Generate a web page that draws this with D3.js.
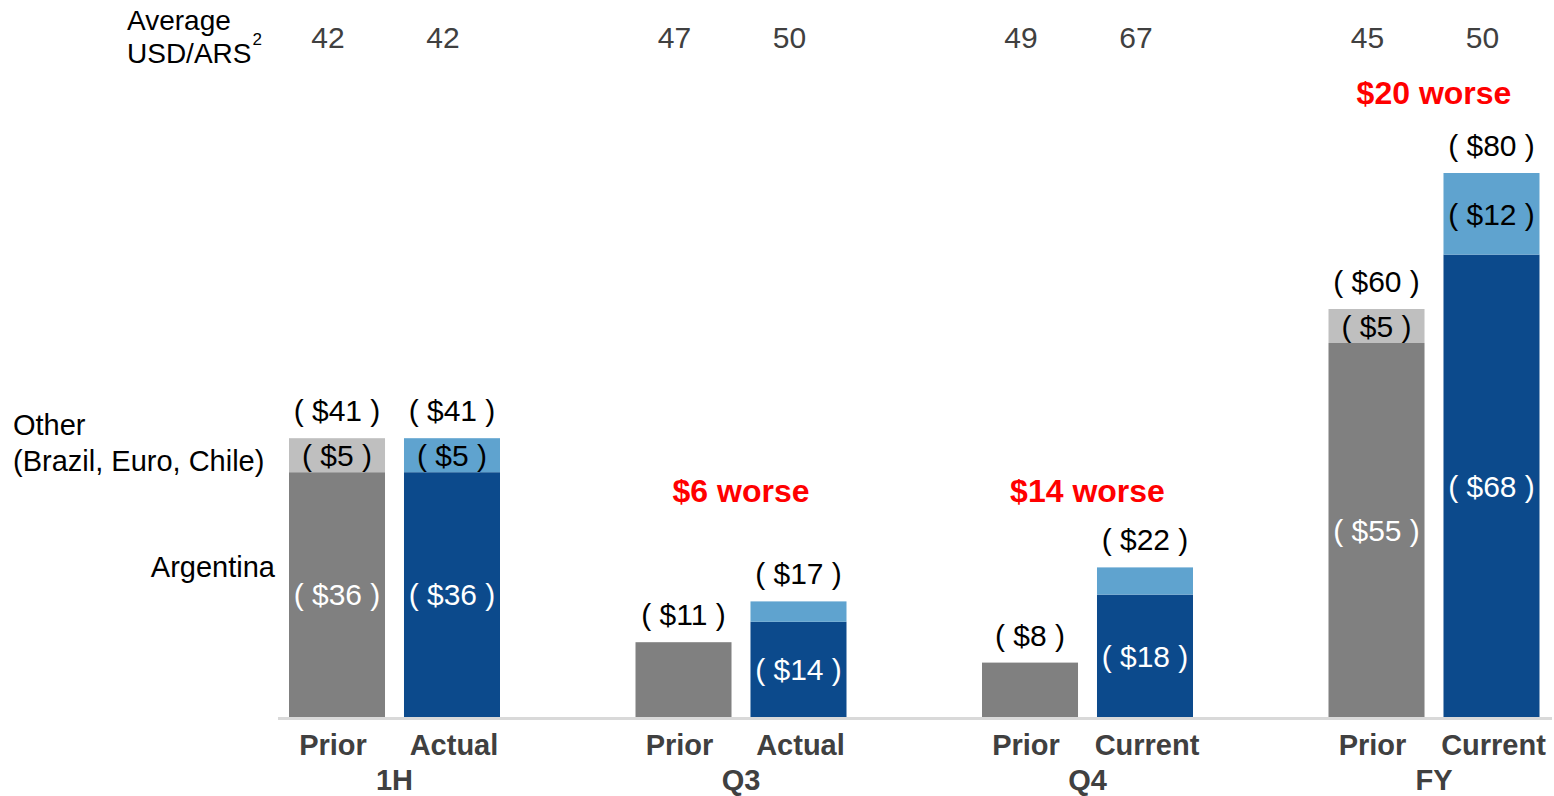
<!DOCTYPE html>
<html>
<head>
<meta charset="utf-8">
<script src="https://cdn.jsdelivr.net/npm/d3@7"></script>
<style>
  body { margin: 0; background: #fff; }
  svg { font-family: "Liberation Sans", Arial, sans-serif; }
</style>
</head>
<body>
<div id="chart"></div>
<script>
const width = 1554, height = 796;

// data
const groups = ["1H", "Q3", "Q4", "FY"];
const seriesNames = [["Prior", "Actual"], ["Prior", "Actual"], ["Prior", "Current"], ["Prior", "Current"]];
const argentina = [[36, 36], [11, 14], [8, 18], [55, 68]];
const other = [[5, 5], [0, 3], [0, 4], [5, 12]];
const totals = [[41, 41], [11, 17], [8, 22], [60, 80]];
const argLabels = [["( $36 )", "( $36 )"], [null, "( $14 )"], [null, "( $18 )"], ["( $55 )", "( $68 )"]];
const otherLabels = [["( $5 )", "( $5 )"], [null, null], [null, null], ["( $5 )", "( $12 )"]];
const fxRates = [[42, 42], [47, 50], [49, 67], [45, 50]];
const worseLabels = ["", "$6 worse", "$14 worse", "$20 worse"];

const colors = {
  priorArg: "#808080", priorOther: "#bfbfbf",
  curArg: "#0c4a8c", curOther: "#5fa3cf"
};

let svg = d3.select("#chart")
    .append("svg")
    .attr("width", width)
    .attr("height", height);

let x0 = d3.scalePoint()
    .domain(groups)
    .range([394.5, 1434]);

let x1 = d3.scaleBand()
    .domain([0, 1])
    .range([-105.5, 105.5])
    .paddingInner(0.165);

let y = d3.scaleLinear()
    .domain([0, 80])
    .range([717, 173]);

// flatten into bar records
let bars = [];
groups.forEach((g, gi) => {
    [0, 1].forEach(si => {
        bars.push({
            group: g, gi: gi, si: si,
            name: seriesNames[gi][si],
            arg: argentina[gi][si], other: other[gi][si], total: totals[gi][si],
            argLabel: argLabels[gi][si], otherLabel: otherLabels[gi][si],
            rate: fxRates[gi][si],
            x: x0(g) + x1(si)
        });
    });
});

// baseline
svg.append("line")
    .attr("x1", 278).attr("x2", 1552)
    .attr("y1", y(0) + 1.5).attr("y2", y(0) + 1.5)
    .attr("stroke", "#d9d9d9")
    .attr("stroke-width", 3);

// argentina segments
svg.append("g").selectAll("rect")
    .data(bars)
    .enter()
    .append("rect")
    .attr("x", d => d.x)
    .attr("y", d => y(d.arg))
    .attr("width", x1.bandwidth())
    .attr("height", d => y(0) - y(d.arg))
    .attr("fill", d => d.si === 0 ? colors.priorArg : colors.curArg);

// other segments
svg.append("g").selectAll("rect")
    .data(bars.filter(d => d.other > 0))
    .enter()
    .append("rect")
    .attr("x", d => d.x)
    .attr("y", d => y(d.arg + d.other))
    .attr("width", x1.bandwidth())
    .attr("height", d => y(d.arg) - y(d.arg + d.other))
    .attr("fill", d => d.si === 0 ? colors.priorOther : colors.curOther);

const numSize = 30;
const textSize = 29;

// segment labels
svg.append("g").selectAll("text")
    .data(bars.filter(d => d.argLabel))
    .enter()
    .append("text")
    .attr("x", d => d.x + x1.bandwidth() / 2)
    .attr("y", d => (y(0) + y(d.arg)) / 2)
    .attr("dy", "0.36em")
    .style("text-anchor", "middle")
    .style("font-size", numSize)
    .attr("fill", "#fff")
    .text(d => d.argLabel);

svg.append("g").selectAll("text")
    .data(bars.filter(d => d.otherLabel))
    .enter()
    .append("text")
    .attr("x", d => d.x + x1.bandwidth() / 2)
    .attr("y", d => (y(d.arg) + y(d.arg + d.other)) / 2)
    .attr("dy", "0.36em")
    .style("text-anchor", "middle")
    .style("font-size", numSize)
    .attr("fill", "#000")
    .text(d => d.otherLabel);

// totals
svg.append("g").selectAll("text")
    .data(bars)
    .enter()
    .append("text")
    .attr("x", d => d.x + x1.bandwidth() / 2)
    .attr("y", d => y(d.total) - 17)
    .style("text-anchor", "middle")
    .style("font-size", numSize)
    .attr("fill", "#000")
    .text(d => "( $" + d.total + " )");

// fx rates along the top
svg.append("g").selectAll("text")
    .data(bars)
    .enter()
    .append("text")
    .attr("x", d => d.x + x1.bandwidth() / 2 - 9)
    .attr("y", 48)
    .style("text-anchor", "middle")
    .style("font-size", numSize)
    .attr("fill", "#404040")
    .text(d => d.rate);

// category labels
svg.append("g").selectAll("text")
    .data(bars)
    .enter()
    .append("text")
    .attr("x", d => d.x + x1.bandwidth() / 2 + (d.si === 0 ? -4 : 2))
    .attr("y", 755)
    .style("text-anchor", "middle")
    .style("font-size", textSize)
    .style("font-weight", "bold")
    .attr("fill", "#404040")
    .text(d => d.name);

// group labels
svg.append("g").selectAll("text")
    .data(groups)
    .enter()
    .append("text")
    .attr("x", d => x0(d))
    .attr("y", 790)
    .style("text-anchor", "middle")
    .style("font-size", textSize)
    .style("font-weight", "bold")
    .attr("fill", "#404040")
    .text(d => d);

// "worse" callouts
svg.append("g").selectAll("text")
    .data(groups.map((g, i) => ({g: g, t: worseLabels[i]})).filter(d => d.t))
    .enter()
    .append("text")
    .attr("x", d => x0(d.g))
    .attr("y", d => d.g === "FY" ? 104 : 502)
    .style("text-anchor", "middle")
    .style("font-size", 32)
    .style("font-weight", "bold")
    .attr("fill", "#ff0000")
    .text(d => d.t);

// legend-ish labels on the left
svg.append("text").attr("x", 13).attr("y", 435)
    .style("font-size", textSize).text("Other");
svg.append("text").attr("x", 13).attr("y", 471)
    .style("font-size", textSize).text("(Brazil, Euro, Chile)");
svg.append("text").attr("x", 275).attr("y", 577)
    .style("text-anchor", "end")
    .style("font-size", textSize).text("Argentina");

// rate row label
svg.append("text").attr("x", 127).attr("y", 30)
    .style("font-size", 28).text("Average");
let usd = svg.append("text").attr("x", 127).attr("y", 63)
    .style("font-size", 28);
usd.append("tspan").text("USD/ARS");
usd.append("tspan").attr("dy", -18).attr("dx", 1).style("font-size", 17).text("2");
</script>
</body>
</html>
